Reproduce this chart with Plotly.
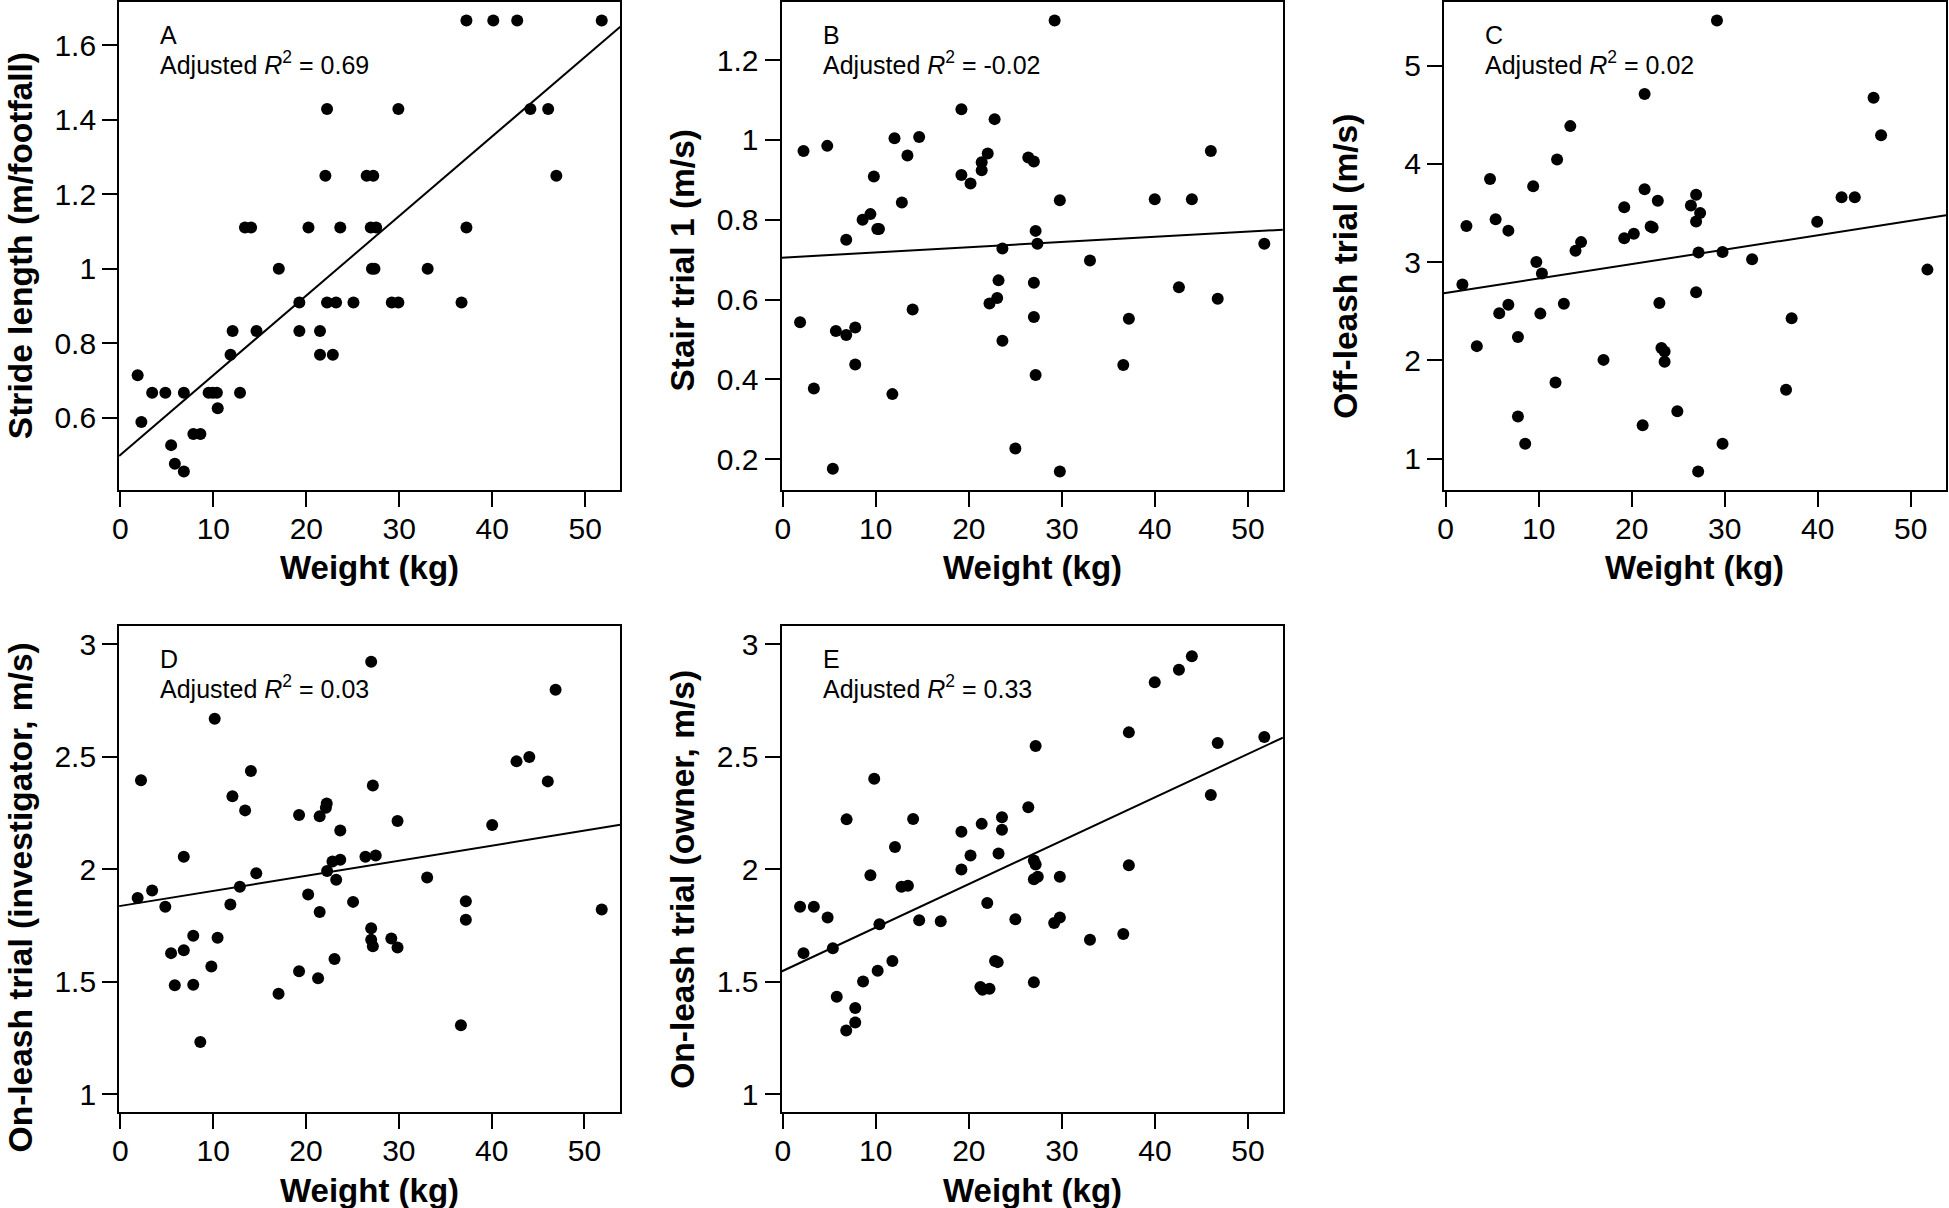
import plotly.graph_objects as go

# ---------------- data ----------------
panel_letters = ["A", "B", "C", "D", "E"]
r2_labels = ["0.69", "-0.02", "0.02", "0.03", "0.33"]
y_titles = ["Stride length (m/footfall)", "Stair trial 1 (m/s)", "Off-leash trial (m/s)",
            "On-leash trial (investigator, m/s)", "On-leash trial (owner, m/s)"]
x_title = "Weight (kg)"

x_ticks = [0, 10, 20, 30, 40, 50]
y_ticks_a = [0.6, 0.8, 1.0, 1.2, 1.4, 1.6]
y_ticklabels_a = ["0.6", "0.8", "1", "1.2", "1.4", "1.6"]
y_ticks_b = [0.2, 0.4, 0.6, 0.8, 1.0, 1.2]
y_ticklabels_b = ["0.2", "0.4", "0.6", "0.8", "1", "1.2"]
y_ticks_c = [1, 2, 3, 4, 5]
y_ticklabels_c = ["1", "2", "3", "4", "5"]
y_ticks_de = [1, 1.5, 2, 2.5, 3]
y_ticklabels_de = ["1", "1.5", "2", "2.5", "3"]
y_limits_de = [1, 3]

weight_a = [1.86, 2.26, 3.42, 4.84, 5.46, 5.86, 6.83, 6.83, 7.85, 8.61,
            9.49, 9.94, 10.38, 10.47, 11.85, 12.07, 12.87, 13.40, 14.06, 14.64,
            17.04, 19.25, 19.25, 20.23, 21.47, 21.47, 22.05, 22.23, 22.23, 22.85,
            23.20, 23.65, 25.07, 26.49, 27.20, 26.93, 27.51, 27.06, 27.33, 29.19,
            29.90, 29.90, 33.05, 36.69, 37.22, 37.22, 40.11, 42.68, 44.10, 46.01,
            46.89, 51.77]
stride = [0.714, 0.588, 0.667, 0.667, 0.526, 0.476, 0.667, 0.455, 0.556, 0.556,
          0.667, 0.667, 0.667, 0.625, 0.769, 0.833, 0.667, 1.111, 1.111, 0.833,
          1.0, 0.909, 0.833, 1.111, 0.833, 0.769, 1.25, 1.429, 0.909, 0.769,
          0.909, 1.111, 0.909, 1.25, 1.25, 1.111, 1.111, 1.0, 1.0, 0.909,
          0.909, 1.429, 1.0, 0.909, 1.667, 1.111, 1.667, 1.667, 1.429, 1.429,
          1.25, 1.667]

weight_b = [1.86, 2.23, 3.34, 4.78, 5.38, 5.71, 6.82, 6.82, 7.79, 7.79,
            8.58, 9.42, 9.79, 10.16, 10.34, 11.78, 12.01, 12.80, 13.40, 13.96,
            14.66, 19.20, 19.20, 20.18, 21.38, 21.38, 22.03, 22.22, 22.77, 23.05,
            23.19, 23.61, 23.61, 25.0, 26.39, 26.99, 26.99, 26.99, 27.18, 27.18,
            27.37, 29.22, 29.78, 29.78, 33.02, 36.60, 37.20, 39.98, 42.58, 43.97,
            46.01, 46.75, 51.76]
stair = [0.543, 0.972, 0.377, 0.985, 0.176, 0.521, 0.750, 0.511, 0.530, 0.437,
         0.800, 0.814, 0.908, 0.777, 0.777, 0.363, 1.004, 0.843, 0.961, 0.575,
         1.007, 1.077, 0.912, 0.891, 0.944, 0.924, 0.966, 0.590, 1.052, 0.604,
         0.648, 0.728, 0.497, 0.227, 0.956, 0.946, 0.642, 0.556, 0.772, 0.411,
         0.740, 1.299, 0.849, 0.169, 0.698, 0.436, 0.552, 0.851, 0.631, 0.851,
         0.972, 0.602, 0.740]

weight_c = [1.80, 2.23, 3.35, 4.77, 5.37, 5.76, 6.74, 6.74, 7.77, 7.77,
            8.55, 9.41, 9.75, 10.18, 10.35, 11.81, 11.98, 12.71, 13.40, 13.96,
            14.56, 16.97, 19.20, 19.20, 20.23, 21.18, 21.39, 21.39, 22.04, 22.25,
            22.81, 22.98, 23.20, 23.54, 23.54, 24.91, 26.37, 26.93, 26.93, 26.93,
            27.15, 27.19, 27.36, 29.17, 29.77, 29.77, 32.95, 36.60, 37.20, 39.95,
            42.57, 43.99, 46.01, 46.82, 51.80]
off_leash = [2.772, 3.368, 2.145, 3.847, 3.438, 2.480, 3.321, 2.566, 2.239, 1.428,
             1.152, 3.773, 3.002, 2.476, 2.885, 1.775, 4.046, 2.577, 4.385, 3.115,
             3.204, 2.005, 3.559, 3.243, 3.290, 1.339, 4.712, 3.742, 3.364, 3.352,
             3.625, 2.585, 2.126, 2.091, 1.985, 1.483, 3.578, 3.687, 2.694, 3.415,
             0.868, 3.099, 3.500, 5.460, 3.103, 1.152, 3.029, 1.701, 2.429, 3.411,
             3.660, 3.660, 4.673, 4.291, 2.924]

weight_d = [1.86, 2.22, 3.42, 4.84, 5.46, 5.86, 6.83, 6.83, 7.85, 7.85,
            8.61, 9.80, 10.16, 10.47, 11.85, 12.07, 12.87, 13.44, 14.06, 14.64,
            17.04, 19.25, 19.25, 20.23, 21.47, 21.47, 21.30, 22.14, 22.23, 22.27,
            22.85, 23.07, 23.25, 23.69, 23.69, 25.07, 26.40, 27.02, 27.02, 27.02,
            27.20, 27.20, 27.51, 29.19, 29.86, 29.86, 33.05, 36.69, 37.22, 37.22,
            40.06, 42.68, 44.06, 46.05, 46.89, 51.86]
on_leash_inv = [1.872, 2.396, 1.906, 1.833, 1.627, 1.484, 2.056, 1.640, 1.704, 1.486,
                1.232, 1.568, 2.670, 1.695, 1.843, 2.325, 1.922, 2.262, 2.437, 1.982,
                1.446, 2.241, 1.546, 1.888, 2.236, 1.810, 1.515, 2.274, 2.293, 1.992,
                2.035, 1.601, 1.953, 2.042, 2.173, 1.855, 2.056, 2.923, 1.738, 1.687,
                1.658, 2.373, 2.061, 1.692, 1.652, 2.215, 1.963, 1.306, 1.858, 1.776,
                2.197, 2.480, 2.499, 2.391, 2.799, 1.821]

weight_e = [1.86, 2.23, 3.34, 4.82, 5.38, 5.80, 6.86, 6.82, 7.79, 7.79,
            8.63, 9.42, 9.83, 10.20, 10.39, 11.78, 12.06, 12.76, 13.45, 14.01,
            14.66, 16.98, 19.20, 19.20, 20.18, 21.38, 21.24, 21.47, 21.98, 22.22,
            22.82, 23.10, 23.19, 23.56, 23.56, 25.0, 26.39, 26.99, 26.99, 26.99,
            27.18, 27.18, 27.41, 29.17, 29.78, 29.78, 33.02, 36.60, 37.20, 37.20,
            39.98, 42.58, 43.97, 46.01, 46.75, 51.76]
on_leash_own = [1.833, 1.627, 1.833, 1.785, 1.649, 1.433, 2.222, 1.283, 1.383, 1.318,
                1.501, 1.973, 2.403, 1.549, 1.755, 1.592, 2.099, 1.922, 1.927, 2.224,
                1.773, 1.769, 2.167, 1.999, 2.061, 2.202, 1.476, 1.464, 1.850, 1.469,
                1.592, 1.587, 2.070, 2.231, 2.176, 1.778, 2.276, 2.039, 1.956, 1.498,
                2.021, 2.548, 1.967, 1.761, 1.785, 1.967, 1.687, 1.712, 2.609, 2.018,
                2.832, 2.888, 2.948, 2.330, 2.562, 2.588]

# fitted regression lines (intercept, slope) as drawn in the reference
fit_intercepts = [0.500, 0.705, 2.686, 1.837, 1.548]
fit_slopes = [0.0214, 0.0013, 0.0147, 0.0067, 0.0193]

# ---------------- layout / style ----------------
W, H = 1949, 1208
FONT = "Arial, Liberation Sans, Helvetica, sans-serif"
col_px = [(112.5, 615.5), (777.3, 1280.5), (1442.0, 1946.0)]
row_px = [(1.5, 489.0), (626.0, 1112.0)]
cells = [(0, 0), (0, 1), (0, 2), (1, 0), (1, 1)]
ytitle_shift = [0, -14, -20, -28, -10]

xs = [weight_a, weight_b, weight_c, weight_d, weight_e]
ys = [stride, stair, off_leash, on_leash_inv, on_leash_own]
ytickv = [y_ticks_a, y_ticks_b, y_ticks_c, y_ticks_de, y_ticks_de]
ytickt = [y_ticklabels_a, y_ticklabels_b, y_ticklabels_c, y_ticklabels_de, y_ticklabels_de]


def padded(lo, hi, frac=0.04):
    span = hi - lo
    return [lo - frac * span, hi + frac * span]


fig = go.Figure()
layout = dict(
    width=W, height=H, margin=dict(l=0, r=0, t=0, b=0),
    paper_bgcolor="white", plot_bgcolor="white", showlegend=False,
    font=dict(family=FONT, color="black"),
)
annotations = []

for i in range(5):
    r, c = cells[i]
    n = "" if i == 0 else str(i + 1)
    xr = padded(min(xs[i]), max(xs[i]))
    if i < 3:
        yr = padded(min(ys[i]), max(ys[i]))
    else:
        yr = padded(y_limits_de[0], y_limits_de[1])

    fig.add_trace(go.Scatter(
        x=xs[i], y=ys[i], mode="markers", xaxis="x" + n, yaxis="y" + n,
        marker=dict(color="black", size=12, line=dict(width=0)),
        hoverinfo="x+y"))
    fig.add_trace(go.Scatter(
        x=xr, y=[fit_intercepts[i] + fit_slopes[i] * v for v in xr],
        mode="lines", xaxis="x" + n, yaxis="y" + n,
        line=dict(color="black", width=2), hoverinfo="skip"))

    x0, x1 = col_px[c]
    y0, y1 = row_px[r]
    axis_common = dict(
        showgrid=False, zeroline=False, showline=True, mirror=True,
        linecolor="black", linewidth=2, ticks="outside", ticklen=15,
        tickwidth=2, tickcolor="black",
        tickfont=dict(family=FONT, size=30, color="black"),
    )
    layout["xaxis" + n] = dict(
        axis_common, domain=[x0 / W, x1 / W], range=xr,
        anchor="y" + n, tickvals=x_ticks, ticktext=[str(t) for t in x_ticks],
        ticklabelstandoff=-4)
    layout["yaxis" + n] = dict(
        axis_common, domain=[1 - y1 / H, 1 - y0 / H], range=yr,
        anchor="x" + n, tickvals=ytickv[i], ticktext=ytickt[i],
        ticklabelstandoff=0)

    xd = "x" + n + " domain"
    yd = "y" + n + " domain"
    annotations += [
        dict(text=panel_letters[i], xref=xd, yref=yd, x=0, y=1, xshift=39,
             yshift=-32.5, xanchor="left", yanchor="middle", showarrow=False,
             font=dict(family=FONT, size=25, color="black")),
        dict(text="Adjusted <i>R</i><sup>2</sup> = " + r2_labels[i], xref=xd, yref=yd,
             x=0, y=1, xshift=39, yshift=-61, xanchor="left", yanchor="middle",
             showarrow=False, font=dict(family=FONT, size=25, color="black")),
        dict(text=x_title, xref=xd, yref=yd, x=0.5, y=0, yshift=-78,
             xanchor="center", yanchor="middle", showarrow=False,
             font=dict(family=FONT, size=33, color="black", weight="bold")),
        dict(text=y_titles[i], xref=xd, yref=yd, x=0, y=0.5, xshift=-99,
             yshift=ytitle_shift[i],
             xanchor="center", yanchor="middle", textangle=-90, showarrow=False,
             font=dict(family=FONT, size=33.5, color="black", weight="bold")),
    ]

layout["annotations"] = annotations
fig.update_layout(**layout)

fig.write_html("out.html", config={"displayModeBar": False},
               post_script="document.body.style.margin='0';")
